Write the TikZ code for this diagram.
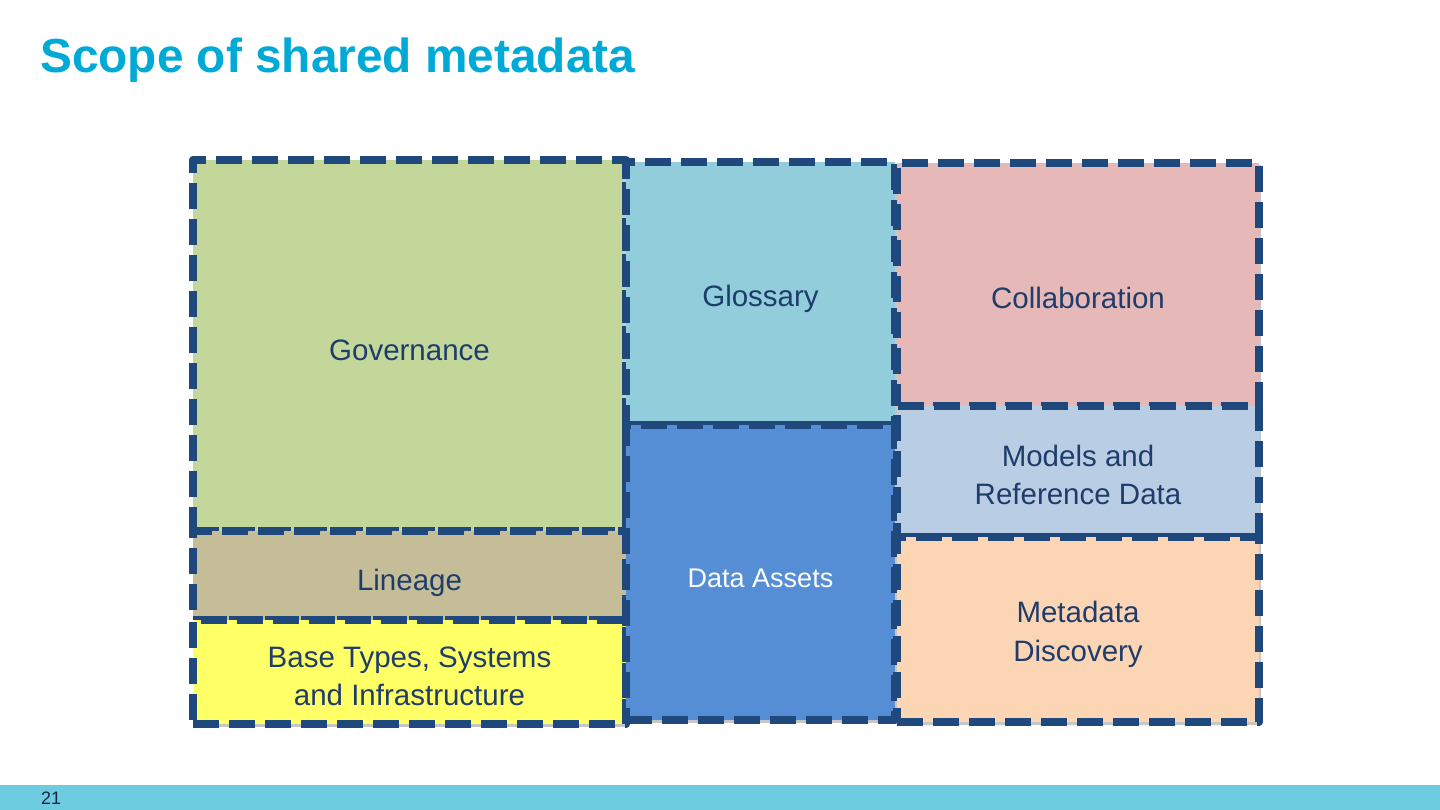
\documentclass[tikz,border=0pt]{standalone}
\usepackage{fontspec}
\setmainfont{Liberation Sans}
\usetikzlibrary{shadows}

\definecolor{titleblue}{HTML}{00A9D6}
\definecolor{edgeblue}{HTML}{1F497D}
\definecolor{textblue}{HTML}{1F3D6B}
\definecolor{footblue}{HTML}{6DCCDF}
\definecolor{govfill}{HTML}{C4D79B}
\definecolor{glosfill}{HTML}{92CDDC}
\definecolor{collabfill}{HTML}{E6B9B8}
\definecolor{modelfill}{HTML}{B9CDE5}
\definecolor{discfill}{HTML}{FCD5B5}
\definecolor{linfill}{HTML}{C4BD97}
\definecolor{basefill}{HTML}{FFFF66}
\definecolor{assetfill}{HTML}{558ED5}

\tikzset{%
        area/.style={
                rectangle,
                draw=edgeblue,
                line width=8.5pt,
                dash pattern=on 26pt off 10pt,
                line join=round,
                anchor=north west,
                inner sep=0pt,
                outer sep=0pt,
                drop shadow={shadow xshift=2pt, shadow yshift=-2.5pt, opacity=0.45, fill=gray}
            },
        areatext/.style={
                align=center,
                inner sep=0pt,
                text=textblue,
                font=\fontsize{29.5}{38}\selectfont
            }
    }

\begin{document}
\begin{tikzpicture}[x=1pt,y=-1pt]
    \useasboundingbox (0,0) rectangle (1440,810);

    % title:
        \node [anchor=base west, inner sep=0pt, text=titleblue, font=\fontsize{47.8}{52}\selectfont\bfseries] (title) at (40,73) {Scope of shared metadata};

    % left column:
        \node [area, fill=govfill, minimum width=433pt, minimum height=371pt] (gov) at (193,160) {};
        \node [area, fill=linfill, minimum width=433pt, minimum height=89pt] (lin) at (193,531) {};
        \node [area, fill=basefill, minimum width=433pt, minimum height=104pt] (base) at (193,620) {};

    % middle column:
        \node [area, fill=glosfill, minimum width=269pt, minimum height=263pt] (glos) at (626,162) {};
        \node [area, fill=assetfill, minimum width=269pt, minimum height=295pt] (assets) at (626,425) {};

    % right column:
        \node [area, fill=collabfill, minimum width=362pt, minimum height=243pt] (collab) at (897,163) {};
        \node [area, fill=modelfill, minimum width=362pt, minimum height=131pt] (models) at (897,406) {};
        \node [area, fill=discfill, minimum width=362pt, minimum height=185pt] (disc) at (897,537) {};

    % texts:
        \node [areatext] (govtext) at ([yshift=-5pt]gov.center) {Governance};
        \node [areatext] (lintext) at ([yshift=-7pt]lin.center) {Lineage};
        \node [areatext] (basetext) at ([yshift=-4pt]base.center) {Base Types, Systems\\and Infrastructure};
        \node [areatext] (glostext) at ([yshift=-5pt]glos.center) {Glossary};
        \node [areatext, text=white, font=\fontsize{27}{34}\selectfont] (assetstext) at ([yshift=-6pt]assets.center) {Data Assets};
        \node [areatext] (collabtext) at ([yshift=-13pt]collab.center) {Collaboration};
        \node [areatext] (modelstext) at ([yshift=-3pt]models.center) {Models and\\Reference Data};
        \node [areatext, font=\fontsize{29.5}{39}\selectfont] (disctext) at ([yshift=-5pt]disc.center) {Metadata\\Discovery};

    % footer:
        \fill [footblue] (0,785) rectangle (1440,810);
        \node [anchor=base west, inner sep=0pt, text=textblue!60!black, font=\fontsize{18}{20}\selectfont] (page) at (41,804) {21};
\end{tikzpicture}
\end{document}
